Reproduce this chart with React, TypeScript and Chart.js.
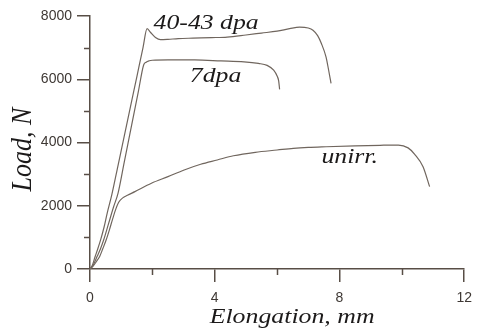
import React, { useEffect, useRef } from "react";
import { Chart, registerables } from "chart.js";

Chart.register(...registerables);

// ---- data (Elongation mm, Load N) ----
const x40 = [0, 0.08, 0.16, 0.25, 0.34, 0.45, 0.55, 0.7, 0.9, 1.1, 1.3, 1.5, 1.7, 1.83, 1.95, 2.1, 2.26, 2.5, 2.83, 3.3, 3.9, 4.4, 5.0, 5.5, 6.0, 6.4, 6.72, 7.0, 7.15, 7.3, 7.42, 7.57, 7.65, 7.73];
const y40 = [0, 130, 380, 640, 920, 1320, 1760, 2350, 3280, 4210, 5140, 6070, 7000, 7600, 7470, 7320, 7250, 7260, 7285, 7300, 7316, 7335, 7400, 7460, 7520, 7600, 7650, 7620, 7550, 7380, 7130, 6700, 6300, 5870];

const x7 = [0, 0.1, 0.23, 0.34, 0.44, 0.6, 0.76, 0.9, 1.1, 1.34, 1.55, 1.72, 1.8, 1.9, 2.0, 2.5, 3.36, 4.2, 4.94, 5.4, 5.68, 5.89, 6.0, 6.05, 6.08];
const y7 = [0, 120, 400, 650, 924, 1450, 1975, 2400, 3390, 4570, 5610, 6450, 6540, 6585, 6600, 6610, 6610, 6580, 6550, 6500, 6440, 6285, 6100, 5950, 5680];

const xUn = [0, 0.1, 0.2, 0.31, 0.41, 0.52, 0.62, 0.72, 0.83, 0.92, 1.05, 1.2, 1.44, 1.97, 2.5, 3.02, 3.55, 4.08, 4.6, 5.3, 6.0, 6.52, 7.0, 7.57, 8.5, 9.3, 9.89, 10.2, 10.42, 10.68, 10.89];
const yUn = [0, 90, 230, 398, 640, 924, 1230, 1560, 1900, 2110, 2250, 2330, 2447, 2712, 2920, 3131, 3311, 3447, 3580, 3690, 3762, 3815, 3845, 3866, 3895, 3912, 3920, 3830, 3620, 3235, 2605];

const curveLabels = ["40-43 dpa", "7dpa", "unirr."];
const labelX = [2.04, 3.2, 7.42];
const labelY = [7590, 5916, 3343];

const xMinorTicks = [2, 6, 10];
const yMinorTicks = [1000, 3000, 5000, 7000];

const xTitle = "Elongation, mm";
const yTitle = "Load, N";

const AXIS = "rgb(88,78,70)";
const LINE = "rgb(112,102,94)";
const TICKTXT = "rgb(62,56,52)";
const TXT = "rgb(28,26,26)";
const SERIF = '"Liberation Serif", "Times New Roman", Times, serif';

const toPts = (xs: number[], ys: number[]) => xs.map((x, i) => ({ x, y: ys[i] }));

const decor = {
  id: "decor",
  afterDraw(chart: any) {
    const { ctx, chartArea } = chart;
    const xs = chart.scales.x;
    const ys = chart.scales.y;
    ctx.save();
    ctx.strokeStyle = AXIS;
    ctx.lineWidth = 1.5;
    xMinorTicks.forEach((v) => {
      const px = Math.round(xs.getPixelForValue(v)) + 0.5;
      ctx.beginPath();
      ctx.moveTo(px, chartArea.bottom);
      ctx.lineTo(px, chartArea.bottom + 6);
      ctx.stroke();
    });
    yMinorTicks.forEach((v) => {
      const py = Math.round(ys.getPixelForValue(v)) + 0.5;
      ctx.beginPath();
      ctx.moveTo(chartArea.left, py);
      ctx.lineTo(chartArea.left - 6, py);
      ctx.stroke();
    });

    ctx.fillStyle = TXT;
    ctx.textBaseline = "alphabetic";
    ctx.textAlign = "left";
    ctx.font = "italic 22px " + SERIF;
    curveLabels.forEach((t, i) => {
      ctx.save();
      ctx.translate(xs.getPixelForValue(labelX[i]), ys.getPixelForValue(labelY[i]));
      ctx.scale(1.17, 1);
      ctx.fillText(t, 0, 0);
      ctx.restore();
    });

    // axis titles
    ctx.textAlign = "center";
    ctx.save();
    ctx.translate((chartArea.left + chartArea.right) / 2 + 15, chartArea.bottom + 54);
    ctx.scale(1.2, 1);
    ctx.font = "italic 21.5px " + SERIF;
    ctx.fillText(xTitle, 0, 0);
    ctx.restore();

    ctx.save();
    ctx.translate(31, (chartArea.top + chartArea.bottom) / 2 + 7);
    ctx.rotate(-Math.PI / 2);
    ctx.scale(1, 1.15);
    ctx.font = "italic 26px " + SERIF;
    ctx.fillText(yTitle, 0, 0);
    ctx.restore();
    ctx.restore();
  },
};

export default function App() {
  const ref = useRef<HTMLCanvasElement>(null);
  useEffect(() => {
    document.body.style.margin = "0";
    const canvas = ref.current!;
    const ds = (label: string, xs: number[], ys: number[]) => ({
      label,
      data: toPts(xs, ys),
      showLine: true,
      borderColor: LINE,
      borderWidth: 1.2,
      pointRadius: 0,
      cubicInterpolationMode: "monotone" as const,
      fill: false,
    });
    const tickFont = { family: '"Liberation Sans", Arial, sans-serif', size: 14 };
    const chart = new Chart(canvas, {
      type: "scatter",
      data: {
        datasets: [ds(curveLabels[0], x40, y40), ds(curveLabels[1], x7, y7), ds(curveLabels[2], xUn, yUn)],
      },
      options: {
        responsive: false,
        animation: false,
        layout: { padding: { top: 16, right: 10, left: 0, bottom: 0 } },
        plugins: { legend: { display: false }, tooltip: { enabled: false } },
        scales: {
          x: {
            type: "linear",
            min: 0,
            max: 12,
            ticks: { stepSize: 4, color: TICKTXT, font: tickFont, padding: 8, maxRotation: 0, callback: (v: any) => String(v) },
            grid: { drawOnChartArea: false, drawTicks: true, tickLength: 13, color: AXIS, tickColor: AXIS, lineWidth: 1.5 },
            border: { display: true, color: AXIS, width: 1.5 },
            afterFit: (s: any) => { s.height = 62; },
          },
          y: {
            type: "linear",
            min: 0,
            max: 8000,
            ticks: { stepSize: 2000, color: TICKTXT, font: tickFont, padding: 5, callback: (v: any) => String(v) },
            grid: { drawOnChartArea: false, drawTicks: true, tickLength: 13, color: AXIS, tickColor: AXIS, lineWidth: 1.5 },
            border: { display: true, color: AXIS, width: 1.5 },
            afterFit: (s: any) => { s.width = 90; },
          },
        },
      },
      plugins: [decor],
    });
    let alive = true;
    const fonts = (document as any).fonts;
    if (fonts && fonts.load) {
      Promise.all([
        fonts.load('italic 22px "Liberation Serif"'),
        fonts.load('14px "Liberation Sans"'),
      ]).then(() => { if (alive) chart.update(); }).catch(() => {});
    }
    return () => { alive = false; chart.destroy(); };
  }, []);
  return (
    <div style={{ width: 480, height: 331, background: "#fff" }}>
      <canvas ref={ref} width={480} height={331} style={{ display: "block" }} />
    </div>
  );
}
